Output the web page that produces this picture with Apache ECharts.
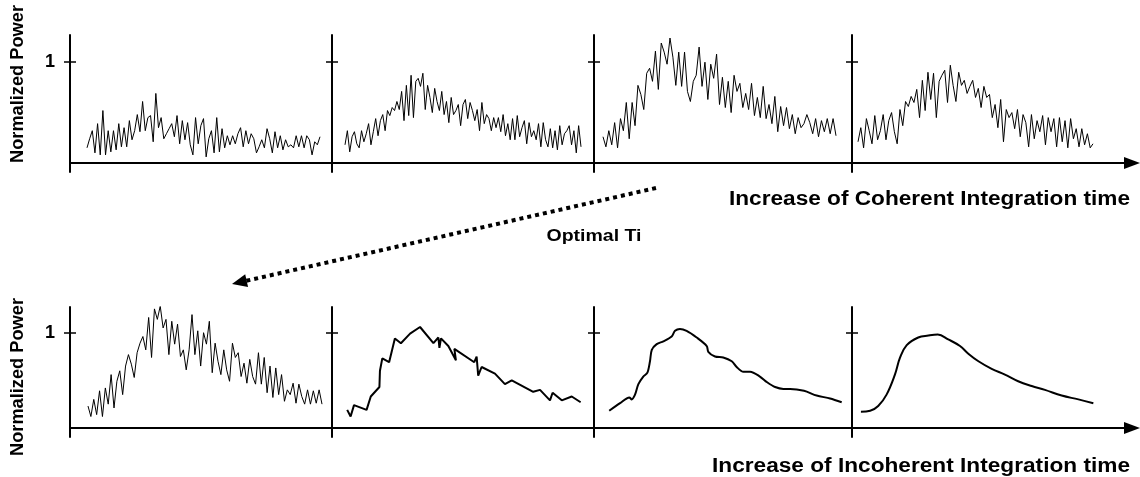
<!DOCTYPE html>
<html><head><meta charset="utf-8">
<script src="https://cdn.jsdelivr.net/npm/echarts@6/dist/echarts.min.js"></script>
<style>html,body{margin:0;padding:0;background:#fff}#c{width:1140px;height:477px}</style>
</head><body><div id="c"></div>
<script>
// ---- DATA (normalized power, 1 = reference level) ----
const coherentT1 = [0.15,0.24,0.32,0.10,0.39,0.08,0.52,0.08,0.32,0.11,0.32,0.13,0.39,0.16,0.35,0.16,0.42,0.23,0.32,0.48,0.31,0.61,0.32,0.45,0.47,0.21,0.69,0.35,0.45,0.24,0.29,0.34,0.39,0.26,0.47,0.19,0.42,0.23,0.40,0.18,0.08,0.45,0.19,0.37,0.44,0.06,0.24,0.32,0.10,0.45,0.11,0.34,0.15,0.27,0.18,0.27,0.19,0.29,0.35,0.16,0.32,0.19,0.29,0.24,0.10,0.16,0.23,0.15,0.34,0.24,0.10,0.31,0.15,0.27,0.13,0.23,0.16,0.18,0.15,0.27,0.16,0.27,0.15,0.27,0.23,0.08,0.21,0.18,0.26];
const coherentT2 = [0.18,0.32,0.11,0.26,0.31,0.19,0.15,0.32,0.21,0.29,0.39,0.18,0.31,0.44,0.27,0.42,0.48,0.32,0.52,0.47,0.55,0.52,0.61,0.53,0.71,0.42,0.77,0.47,0.87,0.45,0.81,0.84,0.76,0.89,0.53,0.77,0.65,0.50,0.74,0.61,0.52,0.71,0.48,0.61,0.40,0.65,0.48,0.52,0.58,0.37,0.58,0.63,0.44,0.60,0.52,0.42,0.53,0.32,0.60,0.39,0.48,0.44,0.32,0.45,0.35,0.45,0.31,0.48,0.27,0.39,0.23,0.44,0.23,0.47,0.26,0.35,0.42,0.19,0.40,0.26,0.32,0.23,0.39,0.16,0.40,0.23,0.16,0.34,0.15,0.32,0.13,0.37,0.18,0.29,0.32,0.37,0.18,0.32,0.10,0.37,0.16];
const coherentT3 = [0.26,0.16,0.32,0.18,0.40,0.15,0.44,0.32,0.60,0.24,0.60,0.37,0.77,0.68,0.53,0.89,0.94,0.81,1.11,0.73,1.19,1.10,0.98,1.24,1.05,0.77,1.10,0.76,1.10,0.71,0.61,0.81,0.87,1.15,0.76,1.00,0.63,0.98,0.84,1.08,0.58,0.85,0.55,0.81,0.50,0.87,0.71,0.79,0.55,0.69,0.53,0.79,0.47,0.65,0.45,0.76,0.44,0.58,0.39,0.66,0.31,0.56,0.37,0.55,0.34,0.48,0.29,0.45,0.35,0.39,0.48,0.40,0.29,0.44,0.26,0.42,0.31,0.44,0.29,0.44,0.27];
const coherentT4 = [0.21,0.35,0.15,0.44,0.32,0.19,0.47,0.23,0.32,0.48,0.23,0.42,0.50,0.31,0.19,0.53,0.37,0.61,0.56,0.66,0.60,0.73,0.45,0.82,0.52,0.90,0.63,0.89,0.45,0.81,0.87,0.92,0.60,0.97,0.77,0.61,0.90,0.77,0.82,0.69,0.76,0.82,0.65,0.74,0.55,0.76,0.65,0.68,0.45,0.58,0.35,0.63,0.21,0.53,0.45,0.50,0.34,0.53,0.26,0.48,0.40,0.16,0.48,0.24,0.42,0.31,0.47,0.18,0.45,0.31,0.44,0.16,0.45,0.21,0.42,0.15,0.44,0.24,0.34,0.16,0.34,0.18,0.29,0.15,0.19];
const incoherentT1 = [0.23,0.12,0.30,0.14,0.39,0.12,0.42,0.25,0.56,0.21,0.49,0.60,0.35,0.65,0.77,0.67,0.53,0.79,0.89,0.96,0.82,1.16,0.74,1.25,1.14,1.28,1.05,1.14,0.77,1.12,0.88,1.09,0.75,0.82,0.61,0.82,1.19,0.77,1.02,0.65,1.00,0.88,1.12,0.58,0.89,0.70,0.56,0.82,0.61,0.49,0.89,0.74,0.79,0.54,0.68,0.47,0.72,0.54,0.46,0.79,0.46,0.74,0.37,0.65,0.32,0.63,0.35,0.56,0.28,0.40,0.35,0.47,0.26,0.46,0.33,0.25,0.40,0.25,0.39,0.26,0.40,0.25];
// [time (% of panel width), power]
const incoherentT2 = [[5.8,0.19],[7.1,0.12],[8.4,0.24],[13.2,0.19],[14.8,0.33],[18.1,0.43],[18.3,0.60],[19.2,0.73],[21.8,0.69],[24.0,0.94],[26.3,0.89],[29.8,0.99],[33.6,1.06],[38.7,0.89],[40.6,0.95],[41.0,0.84],[41.6,0.94],[44.4,0.86],[47.3,0.71],[46.7,0.83],[54.3,0.69],[55.2,0.75],[55.8,0.55],[57.1,0.64],[62.2,0.57],[66.0,0.46],[68.6,0.50],[76.8,0.38],[79.4,0.40],[83.2,0.29],[84.2,0.37],[87.7,0.29],[91.5,0.33],[94.9,0.27]];
const incoherentT3 = [[5.9,0.18],[10.1,0.26],[13.7,0.32],[14.6,0.30],[15.9,0.35],[17.2,0.46],[19.1,0.54],[20.7,0.58],[21.7,0.70],[22.4,0.82],[24.3,0.88],[26.9,0.91],[30.1,0.96],[31.4,1.02],[33.3,1.04],[35.9,1.02],[39.8,0.95],[43.7,0.86],[44.3,0.80],[46.9,0.75],[50.1,0.74],[53.4,0.70],[55.3,0.64],[57.9,0.59],[60.5,0.59],[64.3,0.54],[67.1,0.48],[70.2,0.43],[73.4,0.41],[76.0,0.41],[81.4,0.39],[86.3,0.34],[91.5,0.31],[96.0,0.27]];
const incoherentT4 = [[3.1,0.17],[6.3,0.18],[9.1,0.23],[12.0,0.35],[14.9,0.56],[16.7,0.74],[19.0,0.87],[23.0,0.95],[26.5,0.97],[29.8,0.98],[33.4,0.93],[37.5,0.86],[40.4,0.78],[43.9,0.70],[48.5,0.62],[53.1,0.56],[57.7,0.49],[62.4,0.44],[67.0,0.40],[72.8,0.34],[78.6,0.30],[83.8,0.26]];
const yTickValues = [1];
const yTickLabels = ['1'];
const yAxisName = 'Normalized Power';
const topAxisName = 'Increase of Coherent Integration time';
const bottomAxisName = 'Increase of Incoherent Integration time';
const arrowLabel = 'Optimal Ti';

// ---- LAYOUT ----
const FONT = "'Liberation Sans', Arial, Helvetica, sans-serif";
const lefts = [70, 332, 594, 852];
const widths = [262, 262, 258, 280];
const rows = [
  {top: 35, height: 137, min: -0.09, max: 1.27},
  {top: 307, height: 130, min: -0.095, max: 1.27}
];
const panels = [
  {row:0,col:0,data:coherentT1,noisy:true,start:87,end:320},
  {row:0,col:1,data:coherentT2,noisy:true,start:345,end:581},
  {row:0,col:2,data:coherentT3,noisy:true,start:603,end:836},
  {row:0,col:3,data:coherentT4,noisy:true,start:858,end:1093},
  {row:1,col:0,data:incoherentT1,noisy:true,start:88,end:322},
  {row:1,col:1,data:incoherentT2,noisy:false,width:2,smooth:false,xmax:100},
  {row:1,col:2,data:incoherentT3,noisy:false,width:2,smooth:0.3,xmax:100},
  {row:1,col:3,data:incoherentT4,noisy:false,width:2,smooth:0.4,xmax:100*280/288}
];

const grid = [], xAxis = [], yAxis = [], series = [];
panels.forEach((p, k) => {
  const r = rows[p.row];
  const left = lefts[p.col], width = widths[p.col];
  grid.push({left, top: r.top, width, height: r.height, containLabel:false, outerBoundsMode:'none'});
  let xmin = 0, xmax = p.xmax, data;
  if (p.noisy) {
    const n = p.data.length;
    const per = (p.end - p.start) / (n - 1);
    xmin = -(p.start - left) / per;
    xmax = (left + width - p.start) / per;
    data = p.data.map((v, i) => [i, v]);
  } else {
    data = p.data;
  }
  const last = p.col === 3;
  xAxis.push({
    type:'value', gridIndex:k, min:xmin, max:xmax,
    axisLine:{show:true, onZero:true, lineStyle:{color:'#000', width:2},
      symbol: last ? ['none','triangle'] : ['none','none'], symbolSize:[12,16]},
    axisTick:{show:false}, axisLabel:{show:false}, splitLine:{show:false}
  });
  yAxis.push({
    type:'value', gridIndex:k, position:'left', min:r.min, max:r.max,
    axisLine:{show:true, onZero:false, lineStyle:{color:'#000', width:2}},
    axisTick:{show:true, inside:false, length:6, customValues:yTickValues, lineStyle:{color:'#000', width:1.5}},
    axisLabel:{show:p.col===0, customValues:yTickValues, formatter:(v)=>yTickLabels[yTickValues.indexOf(v)] || '',
      color:'#000', fontFamily:FONT, fontWeight:'bold', fontSize:18, margin:15},
    splitLine:{show:false}
  });
  yAxis.push({
    type:'value', gridIndex:k, position:'left', offset:0, min:r.min, max:r.max,
    axisLine:{show:false, onZero:false},
    axisTick:{show:true, inside:true, length:6, customValues:yTickValues, lineStyle:{color:'#000', width:1.5}},
    axisLabel:{show:false}, splitLine:{show:false}
  });
  series.push({
    type:'line', xAxisIndex:k, yAxisIndex:2*k, data, showSymbol:false, symbol:'none',
    smooth: p.smooth || false,
    lineStyle:{color:'#000', width: p.noisy ? 1 : p.width},
    silent:true, animation:false
  });
});

// text width fitting (reference text is drawn slightly wider than the font)
const mctx = document.createElement('canvas').getContext('2d');
function fitScale(t, fs, target) { mctx.font = `bold ${fs}px ${FONT}`; return target / mctx.measureText(t).width; }
function label(t, fs, x, y, target, align, rot) {
  const s = fitScale(t, fs, target);
  return {type:'text', x, y, rotation: rot || 0, scaleX: s, scaleY: 1,
    style:{text:t, fill:'#000', font:`bold ${fs}px ${FONT}`, align, verticalAlign:'middle'}};
}

// dotted arrow annotation
const aStart = [656, 188], aTip = [232, 284];
const dx = aTip[0]-aStart[0], dy = aTip[1]-aStart[1], L = Math.hypot(dx,dy);
const ux = dx/L, uy = dy/L, px = -uy, py = ux;
const headLen = 15, headHalf = 6.5;
const bx = aTip[0]-ux*headLen, by = aTip[1]-uy*headLen;

const graphic = [
  label(yAxisName, 18, 18, 84, 158, 'center', Math.PI/2),
  label(yAxisName, 18, 18, 377, 158, 'center', Math.PI/2),
  label(topAxisName, 19.5, 1130, 200, 401, 'right'),
  label(bottomAxisName, 19.5, 1130, 467, 418, 'right'),
  label(arrowLabel, 16, 594, 237, 95, 'center'),
  {type:'line', shape:{x1:aStart[0], y1:aStart[1], x2:bx+ux*2, y2:by+uy*2}, style:{stroke:'#000', lineWidth:4, lineDash:[4,4]}},
  {type:'polygon', shape:{points:[aTip,[bx+px*headHalf, by+py*headHalf],[bx-px*headHalf, by-py*headHalf]]}, style:{fill:'#000'}}
];

const chart = echarts.init(document.getElementById('c'), null, {renderer:'canvas'});
chart.setOption({animation:false, backgroundColor:'#fff', grid, xAxis, yAxis, series, graphic});
</script>
</body></html>
